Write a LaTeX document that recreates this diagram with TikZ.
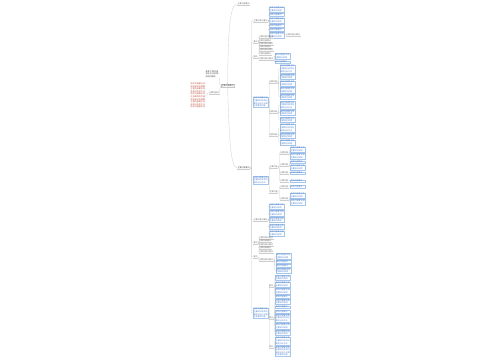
\documentclass[tikz,border=0pt]{standalone}
\usepackage{fontspec}
\setmainfont{Noto Sans CJK SC}
\XeTeXlinebreaklocale "zh"
\XeTeXlinebreakskip = 0pt plus 1pt
\definecolor{linec}{RGB}{205,205,205}
\definecolor{leafb}{RGB}{165,198,236}
\definecolor{leaft}{RGB}{80,130,205}
\definecolor{plaint}{RGB}{110,110,110}
\definecolor{redt}{RGB}{190,85,65}
\definecolor{darkt}{RGB}{70,70,70}
\newcommand\fs{\fontsize{2}{2.6}\selectfont}
\newcommand\ftxt[1]{\ifcase#1\or 相关内容要点\or 相关内容要点及主要知识说明\or 相关内容要点及主要知识说明与具体分析方法\or 相关内容要点及主要知识说明与具体分析方法和注意事项内容\fi}
\newcommand\ctxt[1]{\ifcase#1\or 要\or 要点\or 主要点\or 主要内容\or 主要内容点\or 主要内容要点\or 主要内容与要点\fi}
\newcommand\kids[5]{\foreach \yy/\nn [count=\ii] in {#5}{\node[#3,anchor=west] (#1-\ii) at (#2,\yy) {#4{\nn}}; \draw[conn] (#1.east) -- ++(1.2pt,0) |- (#1-\ii.west);}}
\tikzset{
  conn/.style={draw=linec, line width=0.3pt, rounded corners=0.8pt},
  leafbox/.style={draw=leafb, line width=0.25pt, text=leaft, font=\fs, text width=14.5pt, inner sep=0.4pt, align=left},
  plainnode/.style={text=plaint, font=\fs, inner sep=0.3pt, append after command={(\tikzlastnode.south west) edge[draw=linec, line width=0.3pt] (\tikzlastnode.south east)}},
}
\begin{document}
\begin{tikzpicture}[x=1pt,y=-1pt]
\fill[white] (0,0) rectangle (500,360);
\useasboundingbox (0,0) rectangle (500,360);
% centre
\node[draw=gray!45, line width=0.25pt, text=darkt, font=\fs, inner sep=0.5pt, anchor=west] (R) at (221,86) {主要内容要点};
\node[text=darkt, font=\fs, text width=13.5pt, inner sep=0.3pt, align=left, anchor=east] (Ti) at (219.5,74) {某某主题内容总结与分析相关知识概述};
\node[plainnode, anchor=west] (Lf) at (208.5,93) {主要内容点};
\node[text=redt, font=\fs, text width=14.5pt, inner sep=0.3pt, align=right, anchor=east] (Rd) at (205.5,95.5) {相关内容要点说\\相关知识的理解\\主要内容要点说\\具体分析的方法\\相关内容要点说\\注意事项的内容\\相关知识的理解\\主要内容要点说\\具体分析的方法\\相关内容要点说};
\node[plainnode, anchor=west] (T) at (237,4) {主要内容要点};
\node[plainnode, text=darkt, anchor=west] (M) at (237,168) {主要内容要点};
\draw[conn] (R.north) .. controls (228,40) and (229,4) .. (T.west);
\draw[conn] (R.south) .. controls (229,130) and (230,168) .. (M.west);
\draw[conn] (Ti.south east) .. controls (220,80) and (219,86) .. (R.west);
\draw[conn] (R.west) .. controls (219,88) and (220,93) .. (Lf.east);
\draw[conn] (Lf.west) -- ++(-1.2pt,0) |- (Rd.east);
% level 2
\node[plainnode, anchor=west] (A) at (253,21) {\ctxt{7}};
\node[plainnode, anchor=west] (B) at (253,42) {\ctxt{2}};
\node[plainnode, anchor=west] (C) at (253,57) {\ctxt{2}};
\node[leafbox, anchor=west] (D) at (253,102) {\ftxt{4}};
\node[leafbox, anchor=west] (E) at (253,180) {\ftxt{3}};
\node[plainnode, anchor=west] (F) at (253,220) {\ctxt{7}};
\node[plainnode, anchor=west] (G) at (253,243) {\ctxt{2}};
\node[plainnode, anchor=west] (H) at (253,257) {\ctxt{2}};
\node[leafbox, anchor=west] (I) at (253,313) {\ftxt{4}};
\foreach \n in {A,B,C,D,E,F,G,H,I}{\draw[conn] (M.east) -- ++(1.5pt,0) |- (\n.west);}
% branches
\kids{A}{269}{leafbox}{\ftxt}{9.5/2,14.9/1,20.3/2,25.7/1,29.8/1,35.2/2}
\kids{A-6}{285.5}{plainnode}{\ctxt}{35.2/7}
\kids{B}{258.5}{plainnode}{\ctxt}{37/7,40.3/6,43.6/7,46.9/6,50.2/7,53.5/6}
\kids{C}{258.5}{plainnode}{\ctxt}{59/7}
\kids{C-1}{274.5}{leafbox}{\ftxt}{56/2,62.2/1}
\kids{D}{268.5}{plainnode}{\ctxt}{82/4,112/4,134.5/4}
\kids{D-1}{279.5}{leafbox}{\ftxt}{68.8/3,76.8/2,83.5/2,90.2/2,96.9/2}
\kids{D-2}{279.5}{leafbox}{\ftxt}{104.9/3,112.9/2,119.6/2}
\kids{D-3}{279.5}{leafbox}{\ftxt}{127.8/3,135.8/2,142.5/2}
\kids{E}{269}{plainnode}{\ctxt}{167/4,192/4}
\kids{E-1}{279.5}{plainnode}{\ctxt}{153/4,165/4,173.2/4,181/4}
\kids{E-1-1}{290}{leafbox}{\ftxt}{149.5/2,156.2/2}
\kids{E-1-2}{290}{leafbox}{\ftxt}{162/1,167.4/2}
\kids{E-1-3}{290}{leafbox}{\ftxt}{173.2/1}
\kids{E-1-4}{290}{leafbox}{\ftxt}{181/1}
\kids{E-2}{279.5}{plainnode}{\ctxt}{186.5/4,199/4}
\kids{E-2-1}{290}{leafbox}{\ftxt}{186.5/1}
\kids{E-2-2}{290}{leafbox}{\ftxt}{195.5/2,202.2/2}
\kids{F}{269}{leafbox}{\ftxt}{206.5/2,213.2/2,219.9/2,226.6/2,233.3/2}
\kids{G}{258.5}{plainnode}{\ctxt}{237.8/7,241.2/6,244.6/7,248/6,251.4/7}
\kids{H}{258.5}{plainnode}{\ctxt}{260/7}
\kids{H-1}{275.5}{leafbox}{\ftxt}{256/2,261.4/1,265.5/1,270.9/2}
\kids{I}{268.5}{plainnode}{\ctxt}{286/2,318/2,347/2}
\kids{I-1}{275}{leafbox}{\ftxt}{277.6/2,284.3/2,291/2,296.4/1}
\kids{I-2}{275}{leafbox}{\ftxt}{301.8/2,307.2/1,311.3/1,318/3,326/2,332.7/2}
\kids{I-3}{275}{leafbox}{\ftxt}{340.7/3,351.3/4}
\end{tikzpicture}
\end{document}
